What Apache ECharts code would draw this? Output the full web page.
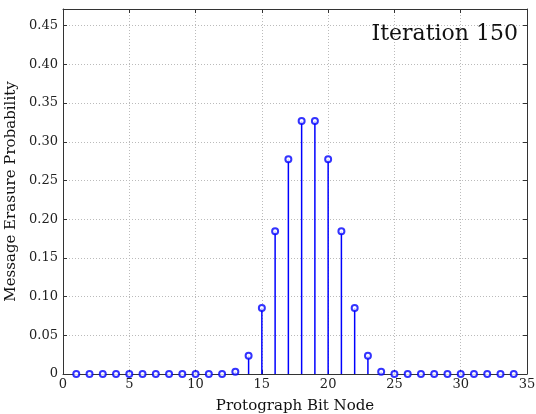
<!DOCTYPE html>
<html>
<head>
<meta charset="utf-8">
<script src="https://cdn.jsdelivr.net/npm/echarts@6/dist/echarts.min.js"></script>
<style>
  html, body { margin: 0; padding: 0; background: #fff; }
  #chart { width: 536px; height: 414px; }
</style>
</head>
<body>
<div id="chart"></div>
<script>
// Bit node indices of the protograph
const nodes = [1,2,3,4,5,6,7,8,9,10,11,12,13,14,15,16,17,18,19,20,21,22,23,24,25,26,27,28,29,30,31,32,33,34];
// Message erasure probability per bit node after the last iteration
const erasureProb = [0,0,0,0,0,0,0,0,0,0,0,0,0.003,0.0237,0.0853,0.1843,0.2775,0.3268,0.3268,0.2775,0.1843,0.0853,0.0237,0.003,0,0,0,0,0,0,0,0,0,0];
const iterationLabel = 'Iteration 150';
const xTicks = [0,5,10,15,20,25,30,35];
const yTicks = [0,0.05,0.10,0.15,0.20,0.25,0.30,0.35,0.40,0.45];

const points = nodes.map((n, i) => [n, erasureProb[i]]);
const FONT = 'DejaVu Serif';
const axisColor = '#333';
const stemColor = '#0000ff';

const chart = echarts.init(document.getElementById('chart'), null, { renderer: 'canvas' });

const baseX = {
  type: 'value', min: 0, max: 35, interval: 5,
  axisLine: { show: true, onZero: false, lineStyle: { color: axisColor, width: 1 } },
  axisTick: { show: true, inside: true, length: 4, lineStyle: { color: axisColor } },
  splitLine: { show: false }
};
const baseY = {
  type: 'value', min: 0, max: 0.4716, interval: 0.05,
  axisLine: { show: true, onZero: false, lineStyle: { color: axisColor, width: 1 } },
  axisTick: { show: true, inside: true, length: 4, lineStyle: { color: axisColor } },
  splitLine: { show: false }
};

chart.setOption({
  animation: false,
  backgroundColor: '#fff',
  title: {
    text: iterationLabel, right: 18, top: 23, padding: 0,
    textStyle: { fontFamily: FONT, fontSize: 22, fontWeight: 'normal', color: '#111' }
  },
  grid: { left: 63, right: 9, top: 9, bottom: 40, containLabel: false, outerBoundsMode: 'none' },
  xAxis: [
    Object.assign({}, baseX, {
      position: 'bottom',
      name: 'Protograph Bit Node', nameLocation: 'middle', nameGap: 25,
      nameTextStyle: { fontFamily: FONT, fontSize: 15, color: '#111' },
      axisLabel: {
        fontFamily: FONT, fontSize: 13, color: '#222', margin: 4,
        formatter: v => xTicks.includes(v) ? String(v) : ''
      },
      splitLine: { show: true, lineStyle: { color: '#bbb', type: [1, 2], width: 1 } }
    }),
    Object.assign({}, baseX, { position: 'top', axisLabel: { show: false } })
  ],
  yAxis: [
    Object.assign({}, baseY, {
      position: 'left',
      name: 'Message Erasure Probability', nameLocation: 'middle', nameGap: 40,
      nameTextStyle: { fontFamily: FONT, fontSize: 15, color: '#111' },
      axisLabel: {
        fontFamily: FONT, fontSize: 13, color: '#222', margin: 5,
        formatter: v => {
          const t = yTicks.find(y => Math.abs(y - v) < 1e-9);
          if (t === undefined) return '';
          return t === 0 ? '0' : t.toFixed(2);
        }
      },
      splitLine: { show: true, lineStyle: { color: '#bbb', type: [1, 2], width: 1 } }
    }),
    Object.assign({}, baseY, { position: 'right', axisLabel: { show: false } })
  ],
  series: [
    {
      // stems
      type: 'bar', data: points, barWidth: 1.5,
      itemStyle: { color: stemColor },
      silent: true, z: 2
    },
    {
      // open circle heads
      type: 'scatter', data: points, symbol: 'emptyCircle', symbolSize: 6,
      itemStyle: { color: stemColor, borderColor: stemColor, borderWidth: 1.2 },
      silent: true, z: 3
    }
  ]
});
</script>
</body>
</html>
